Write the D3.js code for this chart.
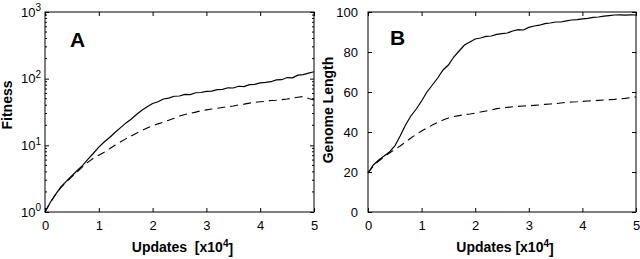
<!DOCTYPE html>
<html>
<head>
<meta charset="utf-8">
<script src="https://cdn.jsdelivr.net/npm/d3@7"></script>
<style>
  body { margin: 0; background: #fff; }
  svg { display: block; font-family: "Liberation Sans", Arial, sans-serif; }
  .tick text { font-size: 13px; fill: #000; }
  .axis path, .axis line { stroke: #000; }
  .ttl { font-weight: bold; font-size: 14px; white-space: pre; }
</style>
</head>
<body>
<script>
// updates, in units of 10^4
var updates = [0,0.1,0.2,0.3,0.4,0.5,0.6,0.7,0.8,0.9,1,1.1,1.2,1.3,1.4,1.5,1.6,1.7,1.8,1.9,2,
  2.1,2.2,2.3,2.4,2.5,2.6,2.7,2.8,2.9,3,3.1,3.2,3.3,3.4,3.5,3.6,3.7,3.8,3.9,4,
  4.1,4.2,4.3,4.4,4.5,4.6,4.7,4.8,4.9,5];

// panel A, fitness (log)
var fitnessSolid = [1,1.4,1.85,2.4,2.9,3.5,4.2,5.0,6.2,7.6,9.4,11.2,13.1,15.6,18.3,21.5,24.6,29,33.5,37.8,42.5,
  45,49.5,51,54.5,55,58,57.5,61.5,62,64.5,65,68.5,69,73,72.5,77,76,81.5,82,86.5,
  88,90,96,96.5,104,103,113,115,121,127];
var fitnessDashed = [1,1.4,1.85,2.35,2.85,3.4,4.0,4.8,5.6,6.4,7.1,7.9,8.9,10,11.2,12.5,13.8,15.2,16.7,18.2,19.6,
  21,22.3,23.8,25.5,27.5,29,30.2,31.5,33,34,35,36,37,38,39,40.5,41.5,43,44,45,
  45.5,47,47.5,48.5,49.5,51,52.5,54,50.5,48];

// panel B, genome length
var lengthSolid = [19.5,23.5,26,28,30,33,38,43.5,48,51.5,55.5,60,63.5,67,71,73.5,77.5,80.5,83.5,85,86.5,
  87,87.8,88,88.8,89.2,89.5,90.5,91.2,91,92.3,93,93.4,94.2,94.5,95,95,95.6,96,96.2,96.6,
  96.8,97.3,97.5,97.9,98.2,98.5,98.6,98.4,98.6,98.5];
var lengthDashed = [19.5,23,25.5,27.5,29.5,31.2,33,35,37,38.8,40.5,42,43.5,44.8,46,47,47.7,48.2,48.7,49,49.4,
  50,50.5,51,51.7,52,52.3,52.6,52.8,53,53.1,53.3,53.5,53.8,54,54.2,54.5,54.8,55,55.1,55.3,
  55.5,55.6,55.8,56,56.2,56.3,56.6,56.8,57.2,57.5];

var xTicks = [0,1,2,3,4,5];
var fitTicks = [1,10,100,1000];
var lenTicks = [0,20,40,60,80,100];

var svg = d3.select("body").append("svg")
  .attr("width", 640).attr("height", 259);

function panel(o) {
  var x = d3.scaleLinear().domain([0,5]).range([o.left, o.right]);
  var y = o.y;
  var g = svg.append("g");

  // box
  g.append("rect")
    .attr("x", o.left).attr("y", o.top)
    .attr("width", o.right - o.left).attr("height", o.bottom - o.top)
    .attr("fill", "none").attr("stroke", "#000");

  // x axes, ticks point inward
  var bx = g.append("g").attr("class", "axis")
    .attr("transform", "translate(0," + o.bottom + ")")
    .call(d3.axisBottom(x).tickValues(xTicks).tickSizeInner(-4).tickSizeOuter(0).tickPadding(9).tickFormat(d3.format("d")));
  bx.select(".domain").remove();
  bx.selectAll("text").attr("dy", "0.71em");

  var tx = g.append("g").attr("class", "axis")
    .attr("transform", "translate(0," + o.top + ")")
    .call(d3.axisTop(x).tickValues(xTicks).tickSizeInner(-4).tickSizeOuter(0).tickFormat(""));
  tx.select(".domain").remove();

  // y axes
  var ly = g.append("g").attr("class", "axis")
    .attr("transform", "translate(" + o.left + ",0)")
    .call(d3.axisLeft(y).tickValues(o.yTicks).tickSizeInner(-4).tickSizeOuter(0).tickPadding(o.pad).tickFormat(o.fmt || d3.format("d")));
  ly.select(".domain").remove();

  var ry = g.append("g").attr("class", "axis")
    .attr("transform", "translate(" + o.right + ",0)")
    .call(d3.axisRight(y).tickValues(o.yTicks).tickSizeInner(-4).tickSizeOuter(0).tickFormat(""));
  ry.select(".domain").remove();

  if (o.log) {
    // 10^n labels
    ly.selectAll(".tick text").text(null).each(function(d) {
      var t = d3.select(this);
      t.append("tspan").text("10");
      t.append("tspan").attr("dy", "-0.55em").attr("font-size", "10px").text(Math.round(Math.log10(d)));
    });
    // minor ticks
    var minor = y.ticks().filter(function(d) { return fitTicks.indexOf(d) < 0; });
    g.selectAll(".minorL").data(minor).join("line")
      .attr("x1", o.left).attr("x2", o.left + 2)
      .attr("y1", function(d) { return y(d); }).attr("y2", function(d) { return y(d); })
      .attr("stroke", "#000");
    g.selectAll(".minorR").data(minor).join("line")
      .attr("x1", o.right).attr("x2", o.right - 2)
      .attr("y1", function(d) { return y(d); }).attr("y2", function(d) { return y(d); })
      .attr("stroke", "#000");
  }

  var line = function(vals) {
    return d3.line().x(function(d, i) { return x(updates[i]); }).y(function(d) { return y(d); })(vals);
  };

  g.append("path").attr("d", line(o.dashed))
    .attr("fill", "none").attr("stroke", "#000").attr("stroke-width", 1.1)
    .attr("stroke-dasharray", "8,5");
  g.append("path").attr("d", line(o.solid))
    .attr("fill", "none").attr("stroke", "#000").attr("stroke-width", 1.2);

  // panel letter
  g.append("text").attr("x", o.letterX).attr("y", o.letterY)
    .attr("font-size", "21px").attr("font-weight", "bold").text(o.letter);

  // x title
  var xt = g.append("text").attr("class", "ttl")
    .attr("x", (o.left + o.right) / 2 + 3).attr("y", 252)
    .attr("text-anchor", "middle");
  xt.append("tspan").text(o.xTitle);
  xt.append("tspan").attr("dy", "-0.5em").attr("font-size", "10px").text("4");
  xt.append("tspan").attr("dy", "0.5em").text("]");

  // y title
  g.append("text").attr("class", "ttl")
    .attr("transform", "translate(" + o.ytX + "," + o.ytY + ") rotate(-90)")
    .attr("text-anchor", "middle").text(o.yTitle);
}

panel({
  left: 45, right: 314, top: 12, bottom: 212,
  y: d3.scaleLog().domain([1, 1000]).range([212, 12]),
  yTicks: fitTicks, log: true, pad: 4,
  solid: fitnessSolid, dashed: fitnessDashed,
  letter: "A", letterX: 70, letterY: 47,
  xTitle: "Updates  [x10", yTitle: "Fitness", ytX: 12, ytY: 105
});

panel({
  left: 368, right: 636, top: 12, bottom: 212,
  y: d3.scaleLinear().domain([0, 100]).range([212, 12]),
  yTicks: lenTicks, pad: 10,
  solid: lengthSolid, dashed: lengthDashed,
  letter: "B", letterX: 390, letterY: 45,
  xTitle: "Updates [x10", yTitle: "Genome Length", ytX: 333, ytY: 110
});
</script>
</body>
</html>
